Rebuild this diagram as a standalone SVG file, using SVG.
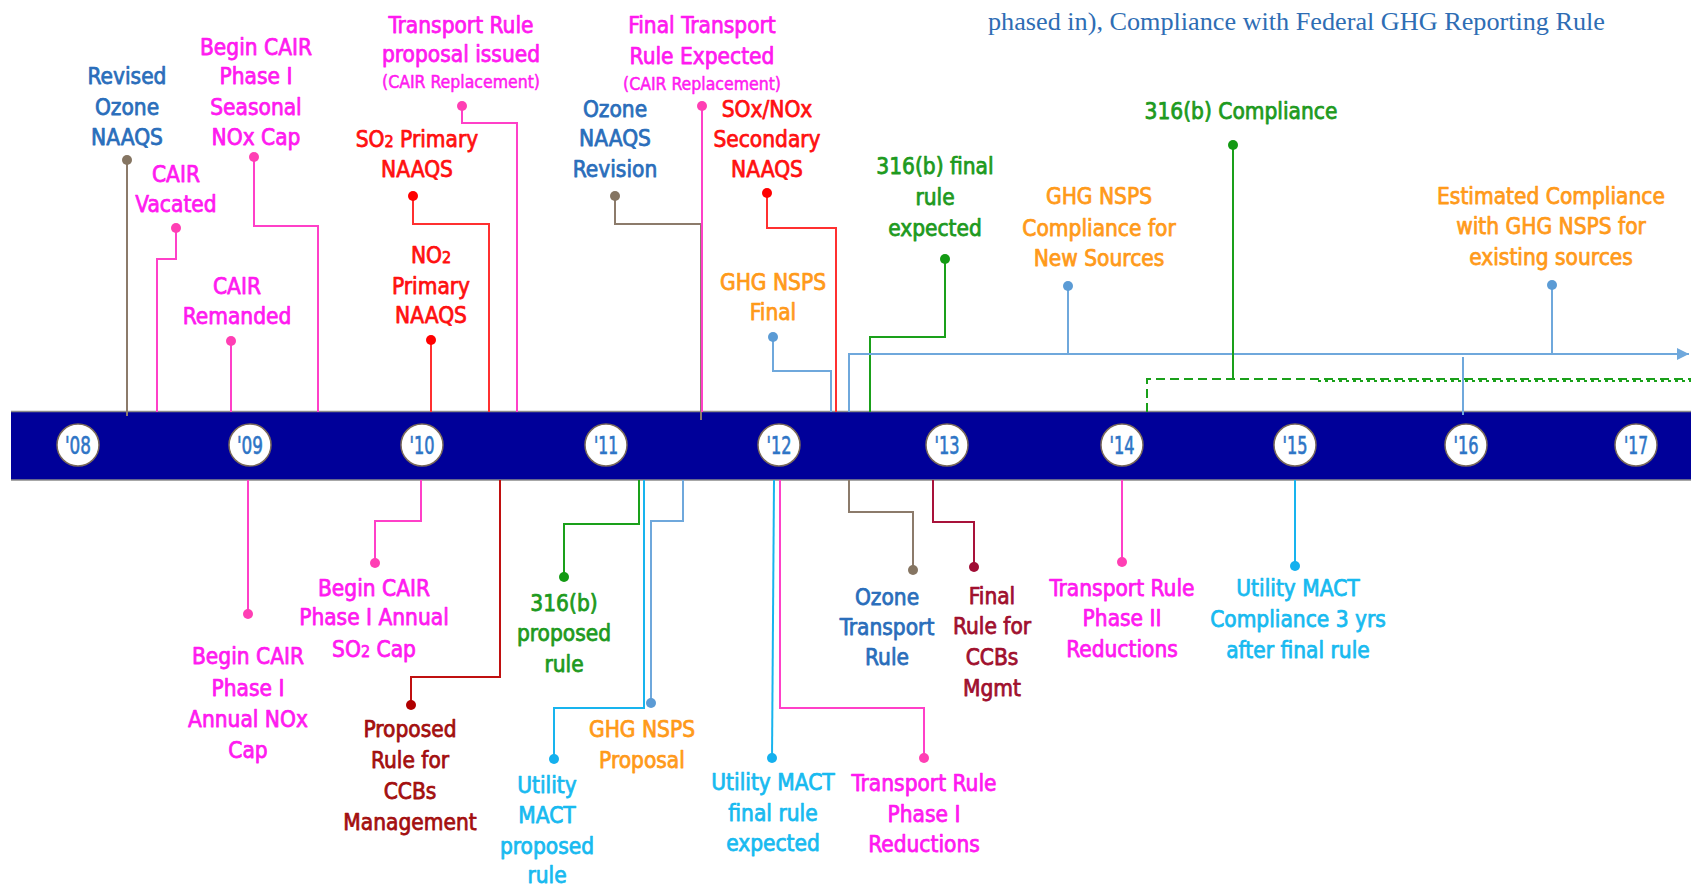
<svg xmlns="http://www.w3.org/2000/svg" width="1691" height="886" viewBox="0 0 1691 886">
<style>
.lbl{font-family:'DejaVu Sans Condensed','DejaVu Sans',sans-serif;font-stretch:condensed;font-size:22.5px;text-anchor:middle;stroke-width:0.75;stroke-linejoin:round}
.sm{font-size:17.5px;stroke-width:0.5}
.sub{font-size:16px}
.mag{fill:#FF1AF0;stroke:#FF1AF0}.red{fill:#FF1010;stroke:#FF1010}.blu{fill:#2A6EBB;stroke:#2A6EBB}.grn{fill:#1E9A1E;stroke:#1E9A1E}.org{fill:#FF9A1A;stroke:#FF9A1A}.cyn{fill:#18BAF0;stroke:#18BAF0}.drd{fill:#A30F0F;stroke:#A30F0F}.mar{fill:#A0102E;stroke:#A0102E}
.c{fill:none;stroke-width:2}
.pk{stroke:#FF40C8}.rd{stroke:#FF3030}.gy{stroke:#8C7B6B}.gn{stroke:#1AA01A}.lb{stroke:#6FA8DC}.cy{stroke:#18B4EE}.dr{stroke:#C01010}.mr{stroke:#A8123A}
.dpk{fill:#FF3FB4}.drd2{fill:#FF0000}.dgy{fill:#857562}.dgn{fill:#139A13}.dlb{fill:#5B9BD5}.dcy{fill:#14B0EE}.ddr{fill:#B00000}.dmr{fill:#A00C34}
.yr{font-family:'Liberation Sans Narrow','DejaVu Sans Condensed',sans-serif;font-stretch:condensed;font-size:24px;fill:#2E75C6;stroke:#2E75C6;stroke-width:0.6;text-anchor:middle}
.yc{fill:#fff;stroke:#7a6a5a;stroke-width:1.5}
</style>
<defs>
<marker id="arr" viewBox="0 0 10 10" refX="10" refY="5" markerWidth="6" markerHeight="7" orient="auto" markerUnits="strokeWidth"><path d="M0,0 L10,5 L0,10 Z" fill="#6FA8DC"/></marker>
</defs>
<rect width="1691" height="886" fill="#fff"/>
<text x="988" y="30" font-family="'Liberation Serif',serif" font-size="25" fill="#2E6DB4" textLength="617" lengthAdjust="spacingAndGlyphs">phased in), Compliance with Federal GHG Reporting Rule</text>

<g id="band">
<rect x="11" y="411" width="1680" height="69" fill="#000099"/>
<line x1="11" y1="411.5" x2="1691" y2="411.5" stroke="#8a8a8a" stroke-width="1.5"/>
<line x1="11" y1="480" x2="1691" y2="480" stroke="#8a8a8a" stroke-width="1.5"/>
</g>

<g id="connectors">
<path class="c gy" d="M127,160 V416"/>
<path class="c pk" d="M176,228 V259 H157 V412"/>
<path class="c pk" d="M254,157 V226 H318 V412"/>
<path class="c pk" d="M231,341 V412" stroke-width="2.5"/>
<path class="c pk" d="M462,106 V123 H517 V412"/>
<path class="c rd" d="M413,196 V224 H489 V412"/>
<path class="c rd" d="M431,340 V412"/>
<path class="c gy" d="M615,196 V224 H701 V420"/>
<path class="c pk" d="M702,106 V412"/>
<path class="c rd" d="M767,193 V228 H836 V412"/>
<path class="c lb" d="M773,337 V371 H831 V412"/>
<path class="c gn" d="M945,259 V337 H870 V412"/>
<path class="c lb" d="M849,412 V354 H1689" marker-end="url(#arr)"/>
<path class="c lb" d="M1068,286 V354"/>
<path class="c lb" d="M1552,285 V354"/>
<path class="c lb" d="M1463,357 V415" stroke-width="1.5"/>
<path class="c gn" d="M1233,145 V379" stroke-width="2.5"/>
<path class="c gn" d="M1147,412 V379 H1691" stroke-dasharray="9 5" stroke-width="1.5"/>
<path class="c gn" d="M1318,381 H1691" stroke-dasharray="3 4" stroke-width="1.5"/>

<path class="c pk" d="M248,480 V614"/>
<path class="c pk" d="M421,480 V521 H375 V563"/>
<path class="c dr" d="M500,480 V677 H411 V705"/>
<path class="c gn" d="M639,480 V524 H564 V577"/>
<path class="c cy" d="M644,480 V708 H554 V759"/>
<path class="c lb" d="M683,480 V521 H651 V703"/>
<path class="c cy" d="M774,480 L772,758" stroke-width="3"/>
<path class="c pk" d="M780,480 V708 H924 V758"/>
<path class="c gy" d="M849,480 V512 H913 V570"/>
<path class="c mr" d="M933,480 V522 H974 V567"/>
<path class="c pk" d="M1122,480 V562"/>
<path class="c cy" d="M1295,480 V566" stroke-width="2.5"/>

<circle class="dgy" cx="127" cy="160" r="5"/>
<circle class="dpk" cx="176" cy="228" r="5"/>
<circle class="dpk" cx="254" cy="157" r="5"/>
<circle class="dpk" cx="231" cy="341" r="5"/>
<circle class="dpk" cx="462" cy="106" r="5"/>
<circle class="drd2" cx="413" cy="196" r="5"/>
<circle class="drd2" cx="431" cy="340" r="5"/>
<circle class="dgy" cx="615" cy="196" r="5"/>
<circle class="dpk" cx="702" cy="106" r="5"/>
<circle class="drd2" cx="767" cy="193" r="5"/>
<circle class="dlb" cx="773" cy="337" r="5"/>
<circle class="dgn" cx="945" cy="259" r="5"/>
<circle class="dlb" cx="1068" cy="286" r="5"/>
<circle class="dgn" cx="1233" cy="145" r="5"/>
<circle class="dlb" cx="1552" cy="285" r="5"/>
<circle class="dpk" cx="248" cy="614" r="5"/>
<circle class="dpk" cx="375" cy="563" r="5"/>
<circle class="ddr" cx="411" cy="705" r="5"/>
<circle class="dgn" cx="564" cy="577" r="5"/>
<circle class="dcy" cx="554" cy="759" r="5"/>
<circle class="dlb" cx="651" cy="703" r="5"/>
<circle class="dcy" cx="772" cy="758" r="5"/>
<circle class="dpk" cx="924" cy="758" r="5"/>
<circle class="dgy" cx="913" cy="570" r="5"/>
<circle class="dmr" cx="974" cy="567" r="5"/>
<circle class="dpk" cx="1122" cy="562" r="5"/>
<circle class="dcy" cx="1295" cy="566" r="5"/>
</g>

<g id="years">
<g id="y08"><circle class="yc" cx="78" cy="445" r="21"/><text class="yr" x="78" y="454" textLength="26" lengthAdjust="spacingAndGlyphs">'08</text></g>
<g id="y09"><circle class="yc" cx="250" cy="445" r="21"/><text class="yr" x="250" y="454" textLength="26" lengthAdjust="spacingAndGlyphs">'09</text></g>
<g id="y10"><circle class="yc" cx="422" cy="445" r="21"/><text class="yr" x="422" y="454" textLength="25" lengthAdjust="spacingAndGlyphs">'10</text></g>
<g id="y11"><circle class="yc" cx="606" cy="445" r="21"/><text class="yr" x="606" y="454" textLength="24" lengthAdjust="spacingAndGlyphs">'11</text></g>
<g id="y12"><circle class="yc" cx="779" cy="445" r="21"/><text class="yr" x="779" y="454" textLength="25" lengthAdjust="spacingAndGlyphs">'12</text></g>
<g id="y13"><circle class="yc" cx="947" cy="445" r="21"/><text class="yr" x="947" y="454" textLength="25" lengthAdjust="spacingAndGlyphs">'13</text></g>
<g id="y14"><circle class="yc" cx="1122" cy="445" r="21"/><text class="yr" x="1122" y="454" textLength="25" lengthAdjust="spacingAndGlyphs">'14</text></g>
<g id="y15"><circle class="yc" cx="1295" cy="445" r="21"/><text class="yr" x="1295" y="454" textLength="25" lengthAdjust="spacingAndGlyphs">'15</text></g>
<g id="y16"><circle class="yc" cx="1466" cy="445" r="21"/><text class="yr" x="1466" y="454" textLength="25" lengthAdjust="spacingAndGlyphs">'16</text></g>
<g id="y17"><circle class="yc" cx="1636" cy="445" r="21"/><text class="yr" x="1636" y="454" textLength="24" lengthAdjust="spacingAndGlyphs">'17</text></g>
</g>

<g id="n-revised-ozone"><text class="lbl blu"><tspan x="127" y="84">Revised</tspan><tspan x="127" y="115">Ozone</tspan><tspan x="127" y="145">NAAQS</tspan></text></g>
<g id="n-cair-vacated"><text class="lbl mag"><tspan x="176" y="182">CAIR</tspan><tspan x="176" y="212">Vacated</tspan></text></g>
<g id="n-cair-seasonal"><text class="lbl mag"><tspan x="256" y="55">Begin CAIR</tspan><tspan x="256" y="84">Phase I</tspan><tspan x="256" y="115">Seasonal</tspan><tspan x="256" y="145">NOx Cap</tspan></text></g>
<g id="n-cair-remanded"><text class="lbl mag"><tspan x="237" y="294">CAIR</tspan><tspan x="237" y="324">Remanded</tspan></text></g>
<g id="n-tr-proposal"><text class="lbl mag"><tspan x="461" y="33">Transport Rule</tspan><tspan x="461" y="62">proposal issued</tspan><tspan class="sm" x="461" y="88">(CAIR Replacement)</tspan></text></g>
<g id="n-so2-primary"><text class="lbl red"><tspan x="417" y="147">SO<tspan class="sub">2</tspan> Primary</tspan><tspan x="417" y="177">NAAQS</tspan></text></g>
<g id="n-no2-primary"><text class="lbl red"><tspan x="431" y="263">NO<tspan class="sub">2</tspan></tspan><tspan x="431" y="294">Primary</tspan><tspan x="431" y="323">NAAQS</tspan></text></g>
<g id="n-final-tr"><text class="lbl mag"><tspan x="702" y="33">Final Transport</tspan><tspan x="702" y="64">Rule Expected</tspan><tspan class="sm" x="702" y="90">(CAIR Replacement)</tspan></text></g>
<g id="n-ozone-revision"><text class="lbl blu"><tspan x="615" y="117">Ozone</tspan><tspan x="615" y="146">NAAQS</tspan><tspan x="615" y="177">Revision</tspan></text></g>
<g id="n-sox-nox"><text class="lbl red"><tspan x="767" y="117">SOx/NOx</tspan><tspan x="767" y="147">Secondary</tspan><tspan x="767" y="177">NAAQS</tspan></text></g>
<g id="n-ghg-final"><text class="lbl org"><tspan x="773" y="290">GHG NSPS</tspan><tspan x="773" y="320">Final</tspan></text></g>
<g id="n-316b-final"><text class="lbl grn"><tspan x="935" y="174">316(b) final</tspan><tspan x="935" y="205">rule</tspan><tspan x="935" y="236">expected</tspan></text></g>
<g id="n-ghg-new"><text class="lbl org"><tspan x="1099" y="204">GHG NSPS</tspan><tspan x="1099" y="236">Compliance for</tspan><tspan x="1099" y="266">New Sources</tspan></text></g>
<g id="n-316b-compliance"><text class="lbl grn" x="1241" y="119">316(b) Compliance</text></g>
<g id="n-ghg-existing"><text class="lbl org"><tspan x="1551" y="204">Estimated Compliance</tspan><tspan x="1551" y="234">with GHG NSPS for</tspan><tspan x="1551" y="265">existing sources</tspan></text></g>

<g id="n-cair-annual-nox"><text class="lbl mag"><tspan x="248" y="664">Begin CAIR</tspan><tspan x="248" y="696">Phase I</tspan><tspan x="248" y="727">Annual NOx</tspan><tspan x="248" y="758">Cap</tspan></text></g>
<g id="n-cair-annual-so2"><text class="lbl mag"><tspan x="374" y="596">Begin CAIR</tspan><tspan x="374" y="625">Phase I Annual</tspan><tspan x="374" y="657">SO<tspan class="sub">2</tspan> Cap</tspan></text></g>
<g id="n-ccb-proposed"><text class="lbl drd"><tspan x="410" y="737">Proposed</tspan><tspan x="410" y="768">Rule for</tspan><tspan x="410" y="799">CCBs</tspan><tspan x="410" y="830">Management</tspan></text></g>
<g id="n-316b-proposed"><text class="lbl grn"><tspan x="564" y="611">316(b)</tspan><tspan x="564" y="641">proposed</tspan><tspan x="564" y="672">rule</tspan></text></g>
<g id="n-umact-proposed"><text class="lbl cyn"><tspan x="547" y="793">Utility</tspan><tspan x="547" y="823">MACT</tspan><tspan x="547" y="854">proposed</tspan><tspan x="547" y="883">rule</tspan></text></g>
<g id="n-ghg-proposal"><text class="lbl org"><tspan x="642" y="737">GHG NSPS</tspan><tspan x="642" y="768">Proposal</tspan></text></g>
<g id="n-umact-final"><text class="lbl cyn"><tspan x="773" y="790">Utility MACT</tspan><tspan x="773" y="821">final rule</tspan><tspan x="773" y="851">expected</tspan></text></g>
<g id="n-tr-phase1"><text class="lbl mag"><tspan x="924" y="791">Transport Rule</tspan><tspan x="924" y="822">Phase I</tspan><tspan x="924" y="852">Reductions</tspan></text></g>
<g id="n-ozone-transport"><text class="lbl blu"><tspan x="887" y="605">Ozone</tspan><tspan x="887" y="635">Transport</tspan><tspan x="887" y="665">Rule</tspan></text></g>
<g id="n-ccb-final"><text class="lbl mar"><tspan x="992" y="604">Final</tspan><tspan x="992" y="634">Rule for</tspan><tspan x="992" y="665">CCBs</tspan><tspan x="992" y="696">Mgmt</tspan></text></g>
<g id="n-tr-phase2"><text class="lbl mag"><tspan x="1122" y="596">Transport Rule</tspan><tspan x="1122" y="626">Phase II</tspan><tspan x="1122" y="657">Reductions</tspan></text></g>
<g id="n-umact-compliance"><text class="lbl cyn"><tspan x="1298" y="596">Utility MACT</tspan><tspan x="1298" y="627">Compliance 3 yrs</tspan><tspan x="1298" y="658">after final rule</tspan></text></g>
</svg>
